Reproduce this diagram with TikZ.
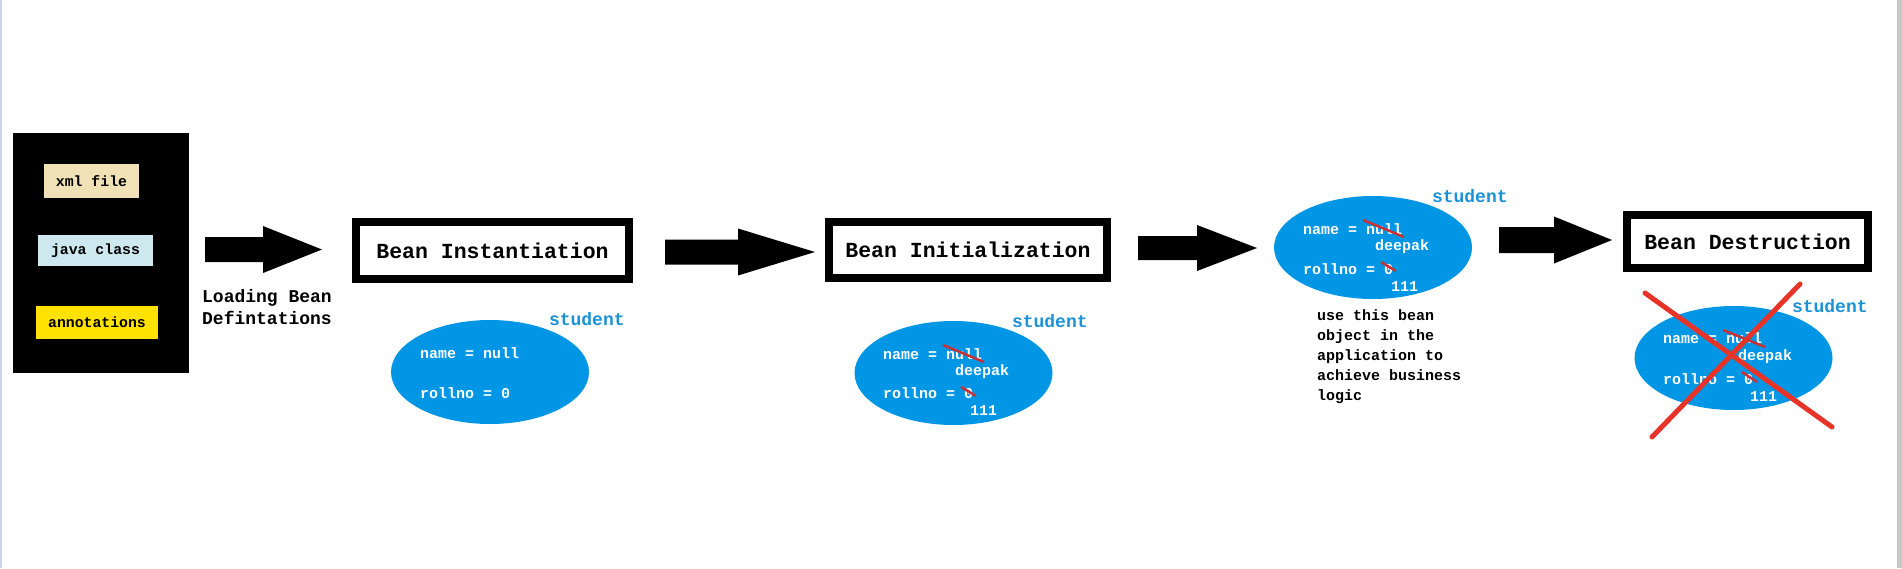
\documentclass[tikz,border=0pt]{standalone}
\usepackage{fontspec}
\newfontfamily\mono{Liberation Mono}
\usetikzlibrary{shapes.geometric}
\definecolor{ellblue}{RGB}{0,150,230}
\definecolor{stublue}{RGB}{28,146,214}
\definecolor{xmlc}{RGB}{240,226,182}
\definecolor{javac}{RGB}{206,232,240}
\definecolor{annc}{RGB}{255,226,0}
\definecolor{strikec}{RGB}{200,50,55}
\definecolor{xred}{RGB}{232,52,40}
\definecolor{edgegray}{RGB}{200,200,200}
\definecolor{edgeblue}{RGB}{205,212,230}
% block arrow: shaft start, head start, tip, y mid, shaft half height, head half height
\newcommand{\blockarrow}[6]{%
  \fill[black] (#1,#4-#5) -- (#2,#4-#5) -- (#2,#4-#6) -- (#3,#4) -- (#2,#4+#6) -- (#2,#4+#5) -- (#1,#4+#5) -- cycle;}
\begin{document}
\begin{tikzpicture}[x=1pt,y=-1pt,
  every node/.style={inner sep=0pt,outer sep=0pt},
  stagebox/.style={draw=black,line width=8pt,fill=white,
    font=\mono\bfseries\fontsize{21.5}{24}\selectfont},
  srcbox/.style={font=\mono\bfseries\fontsize{14.8}{17}\selectfont},
  bean/.style={ellipse,fill=ellblue,minimum width=198pt,minimum height=104pt},
  field/.style={anchor=base west,text=white,font=\mono\bfseries\fontsize{15}{18}\selectfont},
  objname/.style={anchor=base west,text=stublue,font=\mono\bfseries\fontsize{18}{20}\selectfont},
  strk/.style={draw=strikec,line width=2.5pt},
  xline/.style={draw=xred,line width=5pt,line cap=round},
  note/.style={font=\mono\bfseries\fontsize{15}{20}\selectfont,align=left,anchor=north west}
]
\useasboundingbox (0,0) rectangle (1902,568);
\fill[white] (0,0) rectangle (1902,568);
\fill[edgeblue] (0,0) rectangle (2,568);
\fill[edgegray] (1897,0) rectangle (1902,568);

% sources
\node[fill=black,minimum width=176pt,minimum height=240pt] (src) at (101,253) {};
\node[srcbox,fill=xmlc,minimum width=95pt,minimum height=34pt] (xml) at (91.5,181) {xml file};
\node[srcbox,fill=javac,minimum width=115pt,minimum height=31pt] (java) at (95.5,250.5) {java class};
\node[srcbox,fill=annc,minimum width=122pt,minimum height=33pt] (ann) at (97,322.5) {annotations};
\node[font=\mono\bfseries\fontsize{18}{22.5}\selectfont,align=center,anchor=north] (load) at (267,289) {Loading Bean\\Defintations};

% arrows
\blockarrow{205}{263}{322}{249.5}{12.5}{23.5}
\blockarrow{665}{738}{815}{252}{12.5}{23.5}
\blockarrow{1138}{1197}{1257}{248}{12}{23}
\blockarrow{1499}{1554}{1612}{240}{13}{23.5}

% stages
\node[stagebox,minimum width=273pt,minimum height=57pt] (inst) at (492.5,250.5) {Bean Instantiation};
\node[stagebox,minimum width=278pt,minimum height=56pt] (init) at (968,250) {Bean Initialization};
\node[stagebox,minimum width=241pt,minimum height=53pt] (dest) at (1747.5,241.5) {Bean Destruction};

% bean 1
\node[bean] (b1) at (490,372) {};
\node[objname] (s1) at (549,325) {student};
\node[field] (n1) at (420,358) {name = null};
\node[field] (r1) at (420,398) {rollno = 0};

% bean 2
\node[bean] (b2) at (953.5,373) {};
\node[objname] (s2) at (1012,327) {student};
\node[field] (n2) at (883,359) {name = null};
\node[field] (d2) at (955,375) {deepak};
\node[field] (r2) at (883,398) {rollno = 0};
\node[field] (v2) at (970,415) {111};
\draw[strk] (943,345) -- (984,362);
\draw[strk] (961,387) -- (976,396);

% bean 3
\node[bean,minimum height=103pt] (b3) at (1373,247.5) {};
\node[objname] (s3) at (1432,202) {student};
\node[field] (n3) at (1303,234) {name = null};
\node[field] (d3) at (1375,250) {deepak};
\node[field] (r3) at (1303,274) {rollno = 0};
\node[field] (v3) at (1391,291) {111};
\draw[strk] (1363,220) -- (1404,237);
\draw[strk] (1381,262) -- (1396,271);
\node[note] (use) at (1317,310) {use this bean\\object in the\\application to\\achieve business\\logic};

% bean 4
\node[bean] (b4) at (1733.5,358) {};
\node[objname] (s4) at (1792,312) {student};
\node[field] (n4) at (1663,343) {name = null};
\node[field] (d4) at (1738,360) {deepak};
\node[field] (r4) at (1663,384) {rollno = 0};
\node[field] (v4) at (1750,401) {111};
\draw[strk] (1723,330) -- (1765,347);
\draw[strk] (1742,372) -- (1757,382);
\draw[xline] (1645,293) -- (1832,427);
\draw[xline] (1800,284) -- (1652,437);
\end{tikzpicture}
\end{document}
